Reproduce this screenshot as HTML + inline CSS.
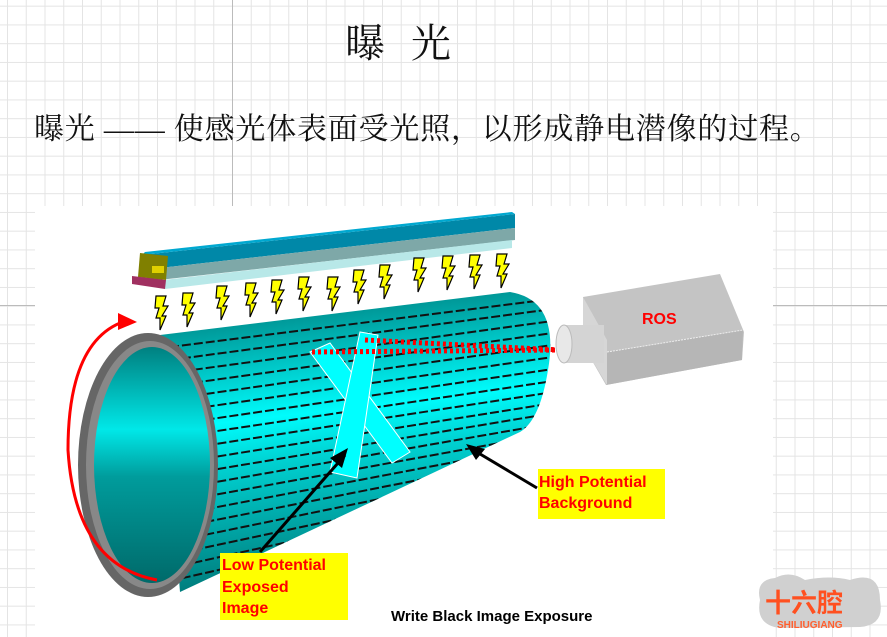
<!DOCTYPE html>
<html><head><meta charset="utf-8"><style>
html,body{margin:0;padding:0;}
body{width:887px;height:637px;overflow:hidden;position:relative;background:#fff;
background-image:linear-gradient(#e4e4e4 1px,transparent 1px),linear-gradient(90deg,#e4e4e4 1px,transparent 1px);
background-size:18.75px 18.75px;background-position:7px 5.7px;}
.t{position:absolute;font-family:"Liberation Serif","Noto Serif CJK SC",serif;color:#111;white-space:nowrap;}
</style></head><body>
<div style="position:absolute;left:232px;top:0;width:1px;height:637px;background:#bbb"></div>
<div style="position:absolute;left:0;top:305px;width:887px;height:1px;background:#bbb"></div>
<div class="t" style="left:345px;top:12px;font-size:40px;letter-spacing:8px">曝 光</div>
<div class="t" style="left:34px;top:104px;font-size:30px;letter-spacing:0.8px">曝光 —— 使感光体表面受光照，以形成静电潜像的过程。</div>
<svg width="887" height="637" style="position:absolute;left:0;top:0">
<defs>
<linearGradient id="cy" x1="0" y1="0" x2="0.15" y2="1">
<stop offset="0" stop-color="#006e6e"/><stop offset="0.45" stop-color="#00fcfc"/><stop offset="0.6" stop-color="#00d0d0"/><stop offset="1" stop-color="#007a7a"/></linearGradient>
<linearGradient id="in" x1="0" y1="0" x2="0" y2="1">
<stop offset="0" stop-color="#008080"/><stop offset="0.35" stop-color="#00e8e8"/><stop offset="0.55" stop-color="#009c9c"/><stop offset="1" stop-color="#006a6a"/></linearGradient>
<path id="b" d="M0,0 L10,0 L7,10 L12,10 L6,20 L10,20 L4,34 L4,22 L0,22 L3,12 L-1,12 Z"/>
<clipPath id="cc"><path d="M160,335 L510,292 Q560,300 548,370 Q540,420 520,432 L180,592 Z"/></clipPath>
</defs>
<rect x="35" y="206" width="738" height="431" fill="#fff"/>
<!-- top bar -->
<polygon points="142,255 515,214 515,228 142,270" fill="#0088a8"/>
<polygon points="142,255 515,214 512,212 145,252" fill="#00a8d0"/>
<polygon points="142,270 515,228 515,240 150,281" fill="#7ea8a8"/>
<polygon points="155,281 512,240 512,248 165,289" fill="#b8e8e8"/>
<polygon points="140,253 168,256 166,280 138,277" fill="#808000"/>
<polygon points="132,276 166,280 165,289 132,284" fill="#a03060"/>
<rect x="152" y="266" width="12" height="7" fill="#e0d000"/>
<!-- cylinder body -->
<path d="M160,335 L510,292 Q560,300 548,370 Q540,420 520,432 L180,592 Z" fill="url(#cy)"/>
<g stroke="#111" stroke-width="2" stroke-dasharray="9,3" fill="none" clip-path="url(#cc)">
<line x1="170" y1="347" x2="560" y2="298"/><line x1="170" y1="360" x2="560" y2="308"/>
<line x1="170" y1="373" x2="560" y2="320"/><line x1="170" y1="386" x2="560" y2="332"/>
<line x1="170" y1="399" x2="560" y2="344"/><line x1="170" y1="412" x2="560" y2="356"/>
<line x1="170" y1="425" x2="560" y2="368"/><line x1="170" y1="438" x2="560" y2="380"/>
<line x1="170" y1="451" x2="560" y2="391"/><line x1="170" y1="464" x2="560" y2="402"/>
<line x1="170" y1="477" x2="560" y2="412"/><line x1="170" y1="490" x2="560" y2="422"/>
<line x1="170" y1="503" x2="560" y2="432"/><line x1="170" y1="516" x2="560" y2="442"/>
<line x1="170" y1="529" x2="560" y2="452"/><line x1="170" y1="542" x2="560" y2="462"/>
<line x1="170" y1="555" x2="560" y2="472"/><line x1="170" y1="568" x2="560" y2="482"/>
<line x1="170" y1="581" x2="560" y2="492"/>
</g>
<!-- X -->
<polygon points="310,352 330,343 410,452 392,463" fill="#00ffff" stroke="#fff"/>
<polygon points="360,332 378,335 357,478 330,472" fill="#00ffff" stroke="#fff"/>
<!-- laser -->
<path d="M312,352 L560,350 M365,340 L560,350" stroke="#f00" stroke-width="5" stroke-dasharray="3,3"/>
<!-- front end -->
<ellipse cx="148" cy="465" rx="70" ry="132" fill="#666"/>
<ellipse cx="150" cy="465" rx="64" ry="124" fill="#888"/>
<ellipse cx="152" cy="465" rx="58" ry="118" fill="url(#in)"/>
<!-- rotation arrow -->
<path d="M157,580 Q75,565 68,450 Q68,345 120,323" stroke="#f00" stroke-width="3" fill="none"/>
<polygon points="118,313 137,322 118,330" fill="#f00"/>
<!-- bolts -->
<g fill="#ff0" stroke="#000" stroke-width="1.2">
<use href="#b" x="156" y="296"/><use href="#b" x="183" y="293"/><use href="#b" x="217" y="286"/>
<use href="#b" x="246" y="283"/><use href="#b" x="272" y="280"/><use href="#b" x="299" y="277"/>
<use href="#b" x="328" y="277"/><use href="#b" x="354" y="270"/><use href="#b" x="380" y="265"/>
<use href="#b" x="414" y="258"/><use href="#b" x="443" y="256"/><use href="#b" x="470" y="255"/><use href="#b" x="497" y="254"/>
</g>
<!-- ROS -->
<polygon points="583,297 720,274 744,332 742,360 606,385 583,345" fill="#c4c4c4"/>
<polygon points="607,352 743,330 742,360 606,385" fill="#b6b6b6"/>
<polygon points="583,297 607,340 607,385 583,345" fill="#d6d6d6"/>
<line x1="607" y1="352" x2="743" y2="330" stroke="#eee" stroke-dasharray="2,1"/>
<rect x="562" y="325" width="42" height="38" fill="#d4d4d4"/>
<ellipse cx="564" cy="344" rx="8" ry="19" fill="#e8e8e8" stroke="#bbb"/>
<text x="642" y="324" font-family="Liberation Sans" font-weight="bold" font-size="16" fill="#f00">ROS</text>
<!-- arrows -->
<line x1="260" y1="552" x2="345" y2="455" stroke="#000" stroke-width="3"/>
<polygon points="348,448 330,458 342,468" fill="#000"/>
<line x1="537" y1="488" x2="470" y2="448" stroke="#000" stroke-width="3"/>
<polygon points="466,444 476,460 485,449" fill="#000"/>
<!-- labels -->
<rect x="220" y="553" width="128" height="67" fill="#ff0"/>
<g font-family="Liberation Sans" font-weight="bold" font-size="16" fill="#f00">
<text x="222" y="570">Low Potential</text><text x="222" y="592">Exposed</text><text x="222" y="613">Image</text>
</g>
<rect x="538" y="469" width="127" height="50" fill="#ff0"/>
<g font-family="Liberation Sans" font-weight="bold" font-size="16" fill="#f00">
<text x="539" y="487">High Potential</text><text x="539" y="508">Background</text>
</g>
<text x="391" y="621" font-family="Liberation Sans" font-weight="bold" font-size="15" fill="#000">Write Black Image Exposure</text>
<!-- logo -->
<path d="M760,600 Q755,580 775,578 Q790,570 805,580 Q830,575 850,580 Q880,570 880,600 Q885,625 860,627 L780,628 Q755,625 760,600Z" fill="#d0d0d0"/>
<text x="765" y="612" font-family="Noto Sans CJK SC" font-weight="bold" font-size="26" fill="#ff5020">十六腔</text>
<text x="777" y="628" font-family="Liberation Sans" font-weight="bold" font-size="10" fill="#ff6030">SHILIUGIANG</text>
</svg>
</body></html>
